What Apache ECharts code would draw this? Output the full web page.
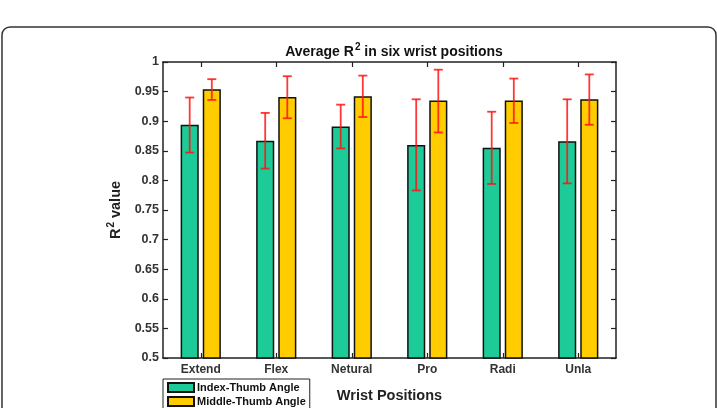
<!DOCTYPE html>
<html>
<head>
<meta charset="utf-8">
<script src="https://cdn.jsdelivr.net/npm/echarts@6/dist/echarts.min.js"></script>
<style>
  html, body { margin: 0; padding: 0; background: #fff; }
  #main_chart { width: 717px; height: 408px; }
</style>
</head>
<body>
<div id="main_chart"></div>
<script>
// 六个腕部姿势
var categories = ['Extend', 'Flex', 'Netural', 'Pro', 'Radi', 'Unla'];
var yTicks = [0.5, 0.55, 0.6, 0.65, 0.7, 0.75, 0.8, 0.85, 0.9, 0.95, 1];

// Index-Thumb Angle
var indexMean = [0.894, 0.867, 0.891, 0.860, 0.855, 0.866];
var indexLow = [0.847, 0.820, 0.854, 0.783, 0.794, 0.795];
var indexHigh = [0.940, 0.914, 0.928, 0.937, 0.916, 0.937];

// Middle-Thumb Angle
var middleMean = [0.954, 0.941, 0.942, 0.935, 0.935, 0.937];
var middleLow = [0.936, 0.905, 0.907, 0.881, 0.897, 0.894];
var middleHigh = [0.971, 0.976, 0.977, 0.987, 0.972, 0.979];

var FONT = '"Liberation Sans", Arial, sans-serif';
var BAR_W = 0.24;     // 柱宽占类目宽度
var BAR_GAP = 0.22;   // 柱间距 / 柱宽

function errorData(low, high) {
    var out = [];
    for (var i = 0; i < categories.length; i++) {
        out.push([i, low[i], high[i]]);
    }
    return out;
}

function errorSeries(name, low, high, side) {
    return {
        name: name,
        type: 'custom',
        z: 5,
        data: errorData(low, high),
        encode: {x: 0, y: [1, 2]},
        renderItem: function (params, api) {
            var bandW = api.size([1, 0])[0];
            var offset = side * (BAR_W + BAR_W * BAR_GAP) / 2 * bandW;
            var lo = api.coord([api.value(0), api.value(1)]);
            var hi = api.coord([api.value(0), api.value(2)]);
            var x = lo[0] + offset;
            var cap = 4.5;
            var style = {stroke: 'rgba(255,20,20,0.85)', lineWidth: 1.8};
            return {
                type: 'group',
                children: [
                    {type: 'line', shape: {x1: x, y1: lo[1], x2: x, y2: hi[1]}, style: style},
                    {type: 'line', shape: {x1: x - cap, y1: lo[1], x2: x + cap, y2: lo[1]}, style: style},
                    {type: 'line', shape: {x1: x - cap, y1: hi[1], x2: x + cap, y2: hi[1]}, style: style}
                ]
            };
        }
    };
}

var axisLine = {show: true, lineStyle: {color: '#222', width: 1.5}};
var axisTick = {show: true, inside: true, length: 5, lineStyle: {color: '#222', width: 1.2}};

var option = {
    animation: false,
    backgroundColor: '#fff',
    graphic: [{
        type: 'rect',
        shape: {x: 2, y: 27, width: 714, height: 420, r: 8},
        style: {fill: 'none', stroke: '#333', lineWidth: 1.5}
    }],
    title: {
        text: '{t|Average R}{s|2}{t| in six wrist positions}',
        left: 389,
        textAlign: 'center',
        top: 37,
        textStyle: {
            rich: {
                t: {fontFamily: FONT, fontWeight: 'bold', fontSize: 14, color: '#111', verticalAlign: 'bottom', height: 18},
                s: {fontFamily: FONT, fontWeight: 'bold', fontSize: 10, color: '#111', verticalAlign: 'top', padding: [0, 0, 9, 1]}
            }
        }
    },
    grid: {left: 163, top: 62, right: 101, bottom: 50},
    legend: {
        data: ['Index-Thumb Angle', 'Middle-Thumb Angle'],
        orient: 'vertical',
        left: 163,
        top: 379,
        height: 60,
        padding: [3, 4, 4, 4],
        itemGap: 3,
        itemWidth: 26,
        itemHeight: 9,
        icon: 'rect',
        borderColor: '#222',
        borderWidth: 1,
        backgroundColor: '#fff',
        textStyle: {fontFamily: FONT, fontWeight: 'bold', fontSize: 11, color: '#111', padding: [0, 0, 0, -2]}
    },
    xAxis: [{
        type: 'category',
        data: categories,
        position: 'bottom',
        name: 'Wrist Positions',
        nameLocation: 'middle',
        nameGap: 30,
        nameTextStyle: {fontFamily: FONT, fontWeight: 'bold', fontSize: 14.5, color: '#222'},
        axisLine: axisLine,
        axisTick: Object.assign({alignWithLabel: true}, axisTick),
        axisLabel: {fontFamily: FONT, fontWeight: 'bold', fontSize: 12, color: '#333', margin: 6},
        splitLine: {show: false}
    }, {
        type: 'category',
        data: categories,
        position: 'top',
        axisLine: axisLine,
        axisTick: Object.assign({alignWithLabel: true}, axisTick),
        axisLabel: {show: false},
        splitLine: {show: false}
    }],
    yAxis: [{
        type: 'value',
        min: yTicks[0],
        max: yTicks[yTicks.length - 1],
        interval: 0.05,
        position: 'left',
        name: '{t|R}{s|2}{t| value}',
        nameLocation: 'middle',
        nameGap: 37,
        nameTextStyle: {
            rich: {
                t: {fontFamily: FONT, fontWeight: 'bold', fontSize: 14.5, color: '#222', verticalAlign: 'bottom', height: 18},
                s: {fontFamily: FONT, fontWeight: 'bold', fontSize: 10, color: '#222', verticalAlign: 'top', padding: [0, 0, 9, 1]}
            }
        },
        axisLine: axisLine,
        axisTick: axisTick,
        axisLabel: {fontFamily: FONT, fontWeight: 'bold', fontSize: 12.5, color: '#333', margin: 4},
        splitLine: {show: false}
    }, {
        type: 'value',
        min: yTicks[0],
        max: yTicks[yTicks.length - 1],
        interval: 0.05,
        position: 'right',
        axisLine: axisLine,
        axisTick: axisTick,
        axisLabel: {show: false},
        splitLine: {show: false}
    }],
    series: [{
        name: 'Index-Thumb Angle',
        type: 'bar',
        data: indexMean,
        barWidth: (BAR_W * 100) + '%',
        barGap: (BAR_GAP * 100) + '%',
        itemStyle: {color: '#1dcb98', borderColor: '#111', borderWidth: 1.5}
    }, {
        name: 'Middle-Thumb Angle',
        type: 'bar',
        data: middleMean,
        barWidth: (BAR_W * 100) + '%',
        barGap: (BAR_GAP * 100) + '%',
        itemStyle: {color: '#ffcc00', borderColor: '#111', borderWidth: 1.5}
    },
        errorSeries('idxErr', indexLow, indexHigh, -1),
        errorSeries('midErr', middleLow, middleHigh, 1)
    ]
};

echarts.init(document.getElementById('main_chart')).setOption(option);
</script>
</body>
</html>
